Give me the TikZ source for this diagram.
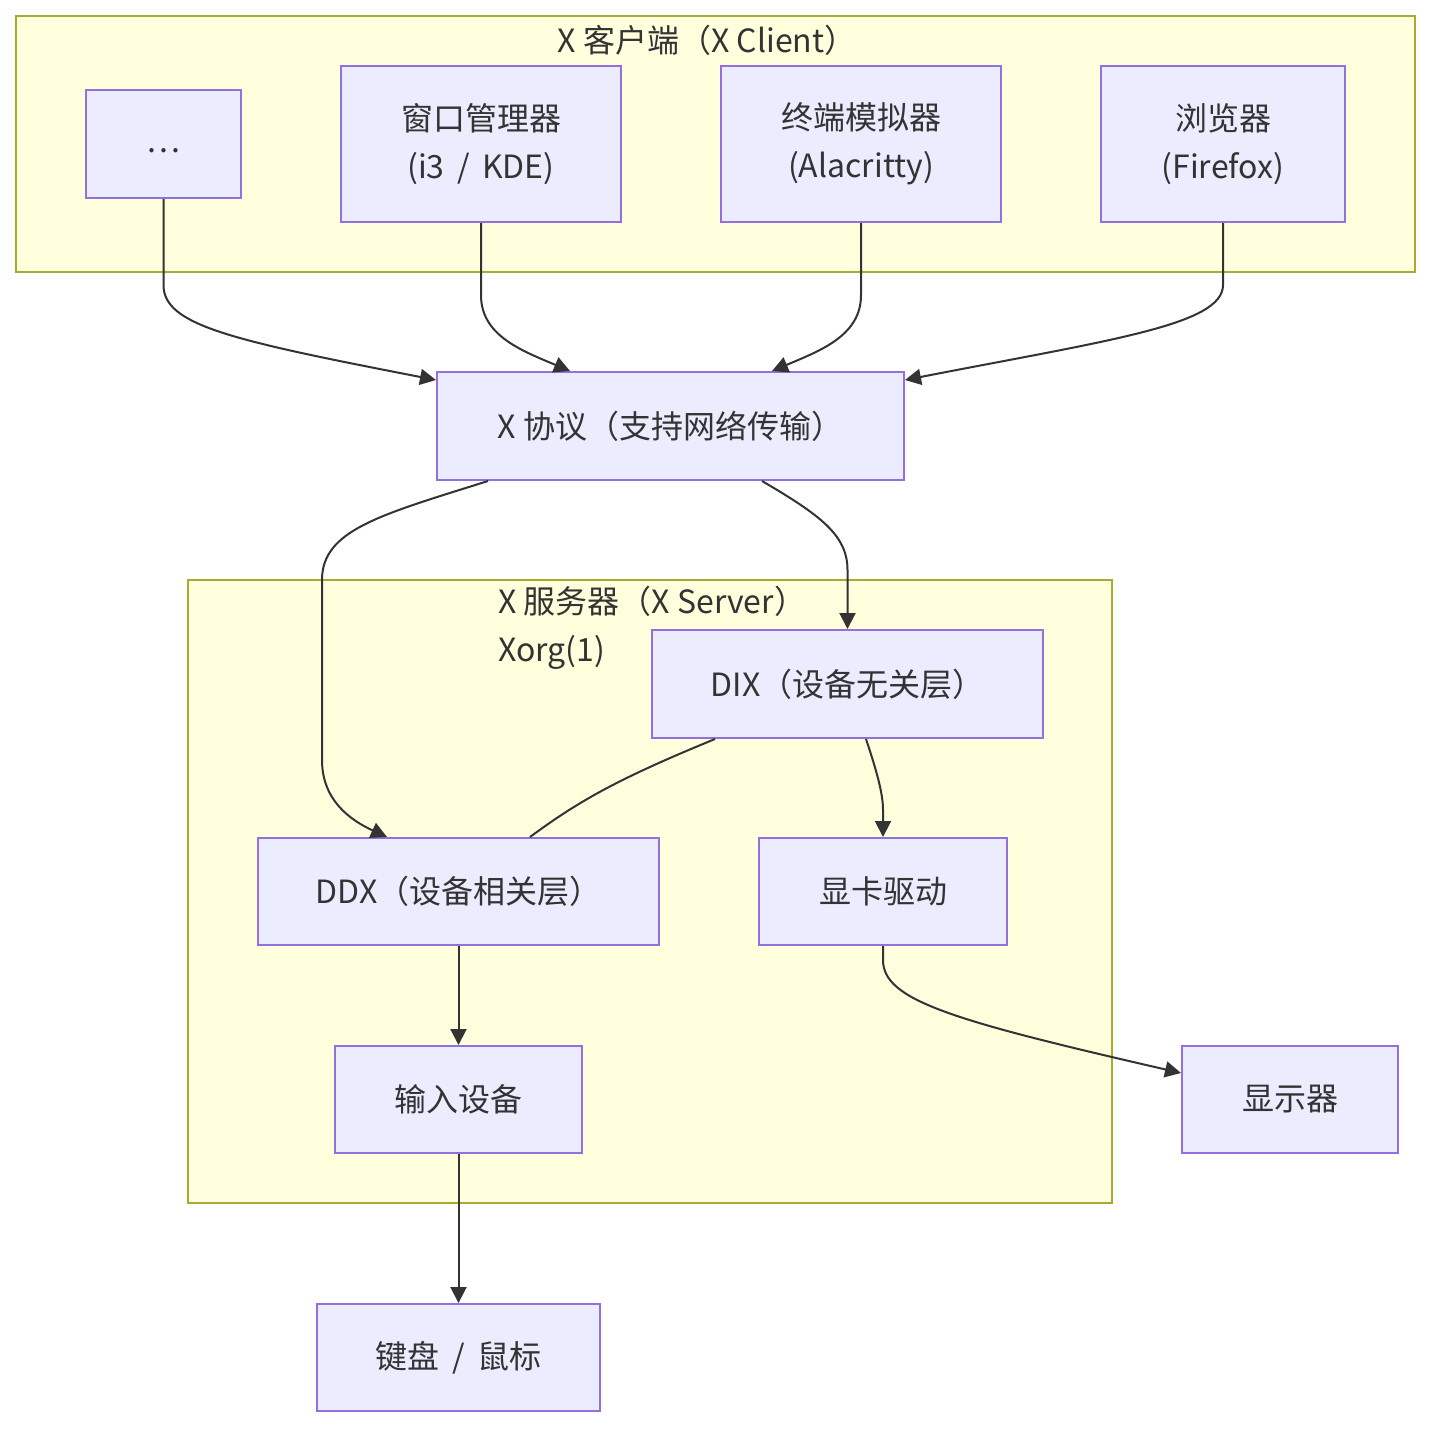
\documentclass[tikz,border=0pt]{standalone}
\usepackage{fontspec}
\setmainfont{Noto Sans CJK SC}
\usetikzlibrary{arrows.meta,calc}
\definecolor{nodefill}{HTML}{ECECFF}
\definecolor{nodeborder}{HTML}{9370DB}
\definecolor{clfill}{HTML}{FFFFDE}
\definecolor{clborder}{HTML}{AAAA33}
\definecolor{ink}{HTML}{333333}
\begin{document}
\begin{tikzpicture}[x=1pt,y=-1pt,
  box/.style={draw=nodeborder,fill=nodefill,line width=2pt,inner sep=0pt,align=center,
    text=ink,font=\fontsize{32}{48}\selectfont},
  cluster/.style={draw=clborder,fill=clfill,line width=2pt},
  title/.style={text=ink,font=\fontsize{32}{48}\selectfont,inner sep=0pt},
  arr/.style={draw=ink,line width=2pt,-{Triangle[length=16pt,width=16pt]}},
  ln/.style={draw=ink,line width=2pt}]
\useasboundingbox (0,0) rectangle (1431,1428);
\fill[white] (0,0) rectangle (1431,1428);
% clusters
\draw[cluster] (16,16) rectangle (1415,272);
\draw[cluster] (188,580) rectangle (1112,1203);
\node[title] (tclient) at (707,40) {X 客户端（X Client）};
\node[title,align=left,anchor=north west] (tserver) at (498,586) {X 服务器（X Server）\\Xorg(1)};
% client nodes
\node[box,minimum width=155pt,minimum height=108pt] (dots) at (163.5,144) {\smash{\raisebox{-8pt}{…}}};
\node[box,minimum width=280pt,minimum height=156pt] (wm) at (481,144) {窗口管理器\\(i3 \,/\, KDE)};
\node[box,minimum width=280pt,minimum height=156pt] (term) at (861,144) {终端模拟器\\(Alacritty)};
\node[box,minimum width=244pt,minimum height=156pt] (br) at (1223,144) {浏览器\\(Firefox)};
\node[box,minimum width=467pt,minimum height=108pt] (proto) at (670.5,426) {X 协议（支持网络传输）};
% server nodes
\node[box,minimum width=391pt,minimum height=108pt] (dix) at (847.5,684) {DIX（设备无关层）};
\node[box,minimum width=401pt,minimum height=107pt] (ddx) at (458.5,891.5) {DDX（设备相关层）};
\node[box,minimum width=248pt,minimum height=107pt] (gpu) at (883,891.5) {显卡驱动};
\node[box,minimum width=247pt,minimum height=107pt] (inp) at (458.5,1099.5) {输入设备};
\node[box,minimum width=216pt,minimum height=107pt] (mon) at (1290,1099.5) {显示器};
\node[box,minimum width=283pt,minimum height=107pt] (kbd) at (458.5,1357.5) {键盘 \,/\, 鼠标};
% edges
\draw[arr] (dots.south) -- (163.5,285) .. controls (163.5,325) and (230,340) .. ([yshift=46pt]proto.west);
\draw[arr] (wm.south) -- (481,295) .. controls (481,335) and (520,350) .. ([xshift=-100.5pt]proto.north);
\draw[arr] (term.south) -- (861,295) .. controls (861,335) and (822,350) .. ([xshift=101.5pt]proto.north);
\draw[arr] (br.south) -- (1223,285) .. controls (1223,325) and (1110,340) .. ([yshift=46pt]proto.east);
\draw[arr] ([xshift=-182.5pt]proto.south) .. controls (380,515) and (322,530) .. (322,580) -- (322,760) .. controls (322,800) and (350,820) .. ([xshift=-71.5pt]ddx.north);
\draw[arr] ([xshift=91.5pt]proto.south) .. controls (820,515) and (847.5,535) .. (847.5,570) -- (dix.north);
\draw[ln] ([xshift=-132.5pt]dix.south) .. controls (620,778) and (580,800) .. ([xshift=71.5pt]ddx.north);
\draw[arr] ([xshift=18.5pt]dix.south) .. controls (878,775) and (883,795) .. (883,810) -- (gpu.north);
\draw[arr] (ddx.south) -- (inp.north);
\draw[arr] (gpu.south) -- (883,960) .. controls (883,1000) and (950,1020) .. ([yshift=26.5pt]mon.west);
\draw[arr] (inp.south) -- (kbd.north);
\end{tikzpicture}
\end{document}
